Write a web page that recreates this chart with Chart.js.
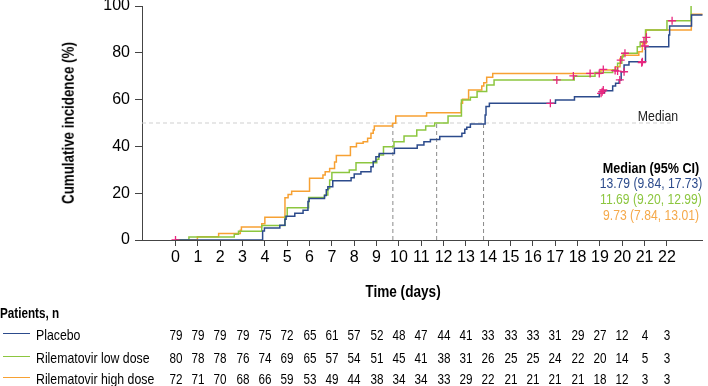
<!DOCTYPE html>
<html>
<head>
<meta charset="utf-8">
<script src="https://cdn.jsdelivr.net/npm/chart.js@4.4.0/dist/chart.umd.min.js"></script>
<style>
  html, body { margin: 0; padding: 0; background: #fff; }
  #wrap { position: relative; width: 708px; height: 386px; overflow: hidden;
          font-family: 'Liberation Sans', Arial, sans-serif; color: #000; }
  #c { position: absolute; left: 0; top: 0; }
  .t { position: absolute; white-space: nowrap; transform: translate(-50%, -50%) scaleX(0.82); font-size: 15px; line-height: 1; }
  .n { transform: translate(-50%, -50%) scaleX(0.78); }
  .m { transform: translate(-50%, -50%) scaleX(0.81); }
  .mb { transform: translate(-50%, -50%) scaleX(0.84); }
  .l { position: absolute; white-space: nowrap; transform-origin: 0 50%; transform: translateY(-50%) scaleX(0.82); font-size: 15px; line-height: 1; }
  .p { transform: translateY(-50%) scaleX(0.78); }
  .b { font-weight: bold; }
  .key { position: absolute; height: 0; border-top: 1.5px solid; width: 27px; left: 3px; }
  .yt { position: absolute; white-space: nowrap; font-weight: bold; font-size: 16.5px; line-height: 1;
        transform: translate(-50%, -50%) rotate(-90deg) scaleX(0.81); }
</style>
</head>
<body>
<div id="wrap">
  <canvas id="c" width="708" height="386"></canvas>
</div>
<script>
// ---------- data ----------
const seriesNames = ['Placebo', 'Rilematovir low dose', 'Rilematovir high dose'];
const dayTicks = [0,1,2,3,4,5,6,7,8,9,10,11,12,13,14,15,16,17,18,19,20,21,22];
const yTicks = [0,20,40,60,80,100];

const placeboDays = [0,3.9,3.98,4.67,4.9,4.95,5.34,5.71,5.93,5.98,6.67,6.75,6.82,7.04,7.86,8.0,8.3,8.75,8.85,8.97,9.12,9.8,10.82,11.12,11.41,11.83,12.82,12.95,13.04,13.2,13.86,13.9,14.05,17.01,17.86,18.97,19.2,19.57,19.7,19.86,19.95,20.08,20.3,21.04,22.08,22.12,23.1,23.6];
const placeboPct  = [0,3.8,5.1,6.3,8.9,10.1,11.4,12.7,16.5,17.7,19.0,21.5,22.8,25.3,26.6,28.2,29.2,31.3,33.5,35.6,37.0,39.2,40.6,42.0,43.0,44.2,45.6,47.3,48.2,49.6,53.4,57.0,58.4,59.8,61.2,62.7,63.8,65.8,67.0,68.4,71.9,74.8,76.2,82.6,87.6,91.5,96.2,96.2];

const lowDays = [0,0.6,2.63,2.82,3.86,4.9,5.0,5.96,6.67,6.82,6.9,7.0,7.78,8.08,9.01,9.1,9.31,9.78,10.23,10.8,11.2,11.6,12.2,12.8,13.2,13.5,13.93,14.26,17.85,18.78,19.57,19.79,19.98,20.05,20.67,20.8,21.04,22.0,23.08];
const lowPct  = [0,1.25,2.5,3.75,6.25,10.0,13.75,18.2,19.2,22.0,25.6,28.8,29.9,33.0,34.5,36.3,39.9,42.0,44.4,47.0,48.7,50.0,53.0,59.8,61.0,63.5,66.2,68.4,70.0,71.6,72.6,75.5,78.3,79.8,82.6,84.5,89.7,93.7,100];

const highDays = [0,0.98,1.93,2.9,2.95,3.86,4.0,4.9,5.04,5.2,6.0,6.6,6.7,6.9,7.12,7.2,7.83,8.1,8.4,8.6,8.75,8.85,8.9,9.71,9.86,11.24,12.79,12.85,13.12,13.71,13.8,13.93,14.2,19.04,19.7,19.9,20.0,20.74,20.9,21.07,23.09,23.6];
const highPct  = [0,1.39,2.78,4.17,5.56,6.94,9.72,18.06,19.44,20.83,26.39,27.78,29.17,30.56,33.33,36.11,39.9,41.3,42.0,43.5,45.6,47.0,48.7,49.9,53.0,54.4,58.4,60.1,64.1,65.8,67.2,69.5,71.2,72.6,74.0,77.6,79.0,80.5,84.0,89.7,96.5,96.5];

const censorDays = [0,16.78,17.07,17.81,18.56,18.97,19.15,19.05,19.1,19.15,19.68,19.79,19.93,20.12,20.08,19.89,20.87,20.9,21.01,20.97,21.08,22.23];
const censorPct  = [0,58.4,68.4,70.1,71.2,71.2,72.9,62.7,63.4,64.1,72.4,72.2,76.9,79.8,71.9,68.4,75.8,76.2,82.9,84.7,86.6,93.7];

const medianDays = [13.79, 11.69, 9.73];
const medianText = ['13.79 (9.84, 17.73)', '11.69 (9.20, 12.99)', '9.73 (7.84, 13.01)'];

const atRiskPlacebo = [79,79,79,79,75,72,65,61,57,52,48,47,44,41,33,33,33,31,29,27,12,4,3];
const atRiskLow     = [80,78,78,76,74,69,65,57,54,51,45,41,38,31,26,25,25,24,22,20,14,5,3];
const atRiskHigh    = [72,71,70,68,66,59,53,49,44,38,34,34,33,29,22,21,21,21,21,18,12,3,3];

// ---------- styles ----------
const FONT = "'Liberation Sans', Arial, sans-serif";
const colors = ['#2c4b8c', '#8cc63f', '#f7a133'];
const textColors = ['#2c4b8c', '#8cc63f', '#f5a94a'];
const censorColor = '#e8267f';

const pts = (xs, ys) => xs.map((x, i) => ({x: x, y: ys[i]}));

const curve = (name, xs, ys, color, order) => ({
  type: 'line', label: name, data: pts(xs, ys), borderColor: color, backgroundColor: color,
  borderWidth: 1.5, pointRadius: 0, stepped: 'before', fill: false, order: order
});

const datasets = [
  { type: 'scatter', label: 'censored', data: pts(censorDays, censorPct), pointStyle: 'cross',
    pointRadius: 4, borderColor: censorColor, backgroundColor: censorColor, borderWidth: 1.3, order: 0 },
  curve(seriesNames[0], placeboDays, placeboPct, colors[0], 1),
  curve(seriesNames[1], lowDays, lowPct, colors[1], 2),
  curve(seriesNames[2], highDays, highPct, colors[2], 3),
  { type: 'line', label: 'median', data: [{x: -1.5, y: 50}, {x: 22.16, y: 50}], borderColor: '#cfcfcf',
    borderWidth: 1, borderDash: [4, 3], pointRadius: 0, order: 10 }
];
medianDays.forEach(m => datasets.push({
  type: 'line', label: 'm' + m, data: [{x: m, y: 0}, {x: m, y: 50}], borderColor: '#8a8a8a',
  borderWidth: 1, borderDash: [4, 3], pointRadius: 0, order: 9
}));

const chart = new Chart(document.getElementById('c'), {
  type: 'line',
  data: { datasets: datasets },
  options: {
    responsive: false, animation: false, devicePixelRatio: 1,
    layout: { padding: { top: 6, left: 0, right: 0, bottom: 0 } },
    plugins: { legend: { display: false }, tooltip: { enabled: false } },
    scales: {
      x: {
        type: 'linear', min: -1.5, max: 23.6,
        afterBuildTicks: s => { s.ticks = dayTicks.map(v => ({value: v})); },
        afterFit: s => { s.height = 146; s.paddingLeft = 0; s.paddingRight = 0; },
        ticks: { autoSkip: false, maxRotation: 0, padding: 2, color: '#000', font: { family: FONT, size: 16 } },
        grid: { drawOnChartArea: false, drawTicks: true, tickLength: 6, color: '#444', lineWidth: 1 },
        border: { display: true, color: '#444', width: 1 }
      },
      y: {
        type: 'linear', min: 0, max: 100,
        afterBuildTicks: s => { s.ticks = yTicks.map(v => ({value: v})); },
        afterFit: s => { s.width = 142; s.paddingTop = 0; s.paddingBottom = 0; },
        ticks: { padding: 5, color: '#000', font: { family: FONT, size: 16 } },
        grid: { drawOnChartArea: false, drawTicks: true, tickLength: 7, color: '#444', lineWidth: 1 },
        border: { display: true, color: '#444', width: 1 }
      }
    }
  }
});

// ---------- text annotations ----------
const wrap = document.getElementById('wrap');
function addText(cls, txt, x, y, color, extra) {
  const d = document.createElement('div');
  d.className = cls;
  d.textContent = txt;
  d.style.left = x + 'px';
  d.style.top = y + 'px';
  if (color) d.style.color = color;
  if (extra) Object.assign(d.style, extra);
  wrap.appendChild(d);
  return d;
}
const xs = chart.scales.x, ys = chart.scales.y;

addText('yt', 'Cumulative incidence (%)', 68, (ys.top + ys.bottom) / 2, '#000');
addText('t', 'Median', 658, ys.getPixelForValue(50) - 8, '#222');
addText('t mb b', 'Median (95% CI)', 651, 167, '#000');
medianText.forEach((t, i) => addText('t m', t, 651, 182 + i * 16, textColors[i]));

addText('t b', 'Time (days)', 403, 292, '#000', { fontSize: '16px', transform: 'translate(-50%, -50%) scaleX(0.85)' });
addText('l p b', 'Patients, n', 0, 312, '#000');

const rows = [atRiskPlacebo, atRiskLow, atRiskHigh];
const rowY = [334, 356.5, 378];
rows.forEach((vals, r) => {
  const k = document.createElement('div');
  k.className = 'key';
  k.style.top = (rowY[r] - 1) + 'px';
  k.style.borderTopColor = colors[r];
  wrap.appendChild(k);
  addText('l', seriesNames[r], 36, rowY[r], '#000');
  vals.forEach((v, i) => addText('t n', String(v), xs.getPixelForValue(dayTicks[i]), rowY[r], '#000'));
});
</script>
</body>
</html>
